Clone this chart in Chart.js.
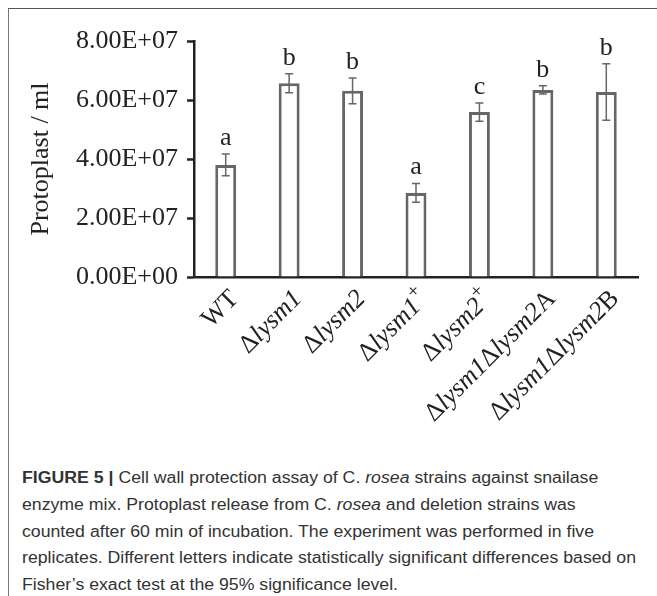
<!DOCTYPE html>
<html>
<head>
<meta charset="utf-8">
<script src="https://cdn.jsdelivr.net/npm/chart.js@4"></script>
<style>
body { margin: 0; background: #fff; width: 657px; height: 596px; overflow: hidden; position: relative; }
#frame { position: absolute; left: 8px; top: 8px; width: 800px; height: 800px; border-left: 1px solid #777; border-top: 1px solid #555; }
#histogram { position: absolute; left: 0; top: 0; }
#caption { position: absolute; left: 22px; top: 465px; font: 16px "Liberation Sans", Arial, sans-serif; line-height: 26.8px; color: #333; white-space: nowrap; transform-origin: 0 0; }
#caption span { display: inline-block; }
</style>
</head>
<body>
<div id="frame"></div>
<canvas id="histogram" width="657" height="460"></canvas>
<div id="caption">
<div><span><b>FIGURE 5 |</b> Cell wall protection assay of C. <i>rosea</i> strains against snailase</span></div>
<div><span>enzyme mix. Protoplast release from C. <i>rosea</i> and deletion strains was</span></div>
<div><span>counted after 60 min of incubation. The experiment was performed in five</span></div>
<div><span id="longest">replicates. Different letters indicate statistically significant differences based on</span></div>
<div><span>Fisher’s exact test at the 95% significance level.</span></div>
</div>
<script>
const categories = ['WT', 'Δlysm1', 'Δlysm2', 'Δlysm1+', 'Δlysm2+', 'Δlysm1Δlysm2A', 'Δlysm1Δlysm2B'];
const means = [3.80e7, 6.57e7, 6.31e7, 2.85e7, 5.59e7, 6.34e7, 6.27e7];
const errors = [0.37e7, 0.32e7, 0.44e7, 0.32e7, 0.31e7, 0.14e7, 0.96e7];
const letters = ['a', 'b', 'b', 'a', 'c', 'b', 'b'];
const yTicks = ['0.00E+00', '2.00E+07', '4.00E+07', '6.00E+07', '8.00E+07'];

const serif = '"Liberation Serif", "Times New Roman", serif';

// split a strain name into upright / italic / superscript pieces
function parts(label) {
    return label.split(/(lysm\d|\+)/).filter(s => s).map(s => {
        if (s === '+') return { text: s, font: '20px ' + serif, rise: -10 };
        if (s.startsWith('lysm')) return { text: s, font: 'italic 26px ' + serif, rise: 0 };
        return { text: s, font: '26px ' + serif, rise: 0 };
    });
}

const extras = {
    id: 'extras',
    afterDatasetsDraw(chart) {
        const ctx = chart.ctx;
        const x = chart.scales.x;
        const y = chart.scales.y;
        ctx.save();
        means.forEach((m, i) => {
            const px = x.getPixelForValue(i);
            const top = y.getPixelForValue(m + errors[i]);
            const bot = y.getPixelForValue(m - errors[i]);
            ctx.strokeStyle = '#666';
            ctx.lineWidth = 1.5;
            ctx.beginPath();
            ctx.moveTo(px, top); ctx.lineTo(px, bot);
            ctx.moveTo(px - 4, top); ctx.lineTo(px + 4, top);
            ctx.moveTo(px - 4, bot); ctx.lineTo(px + 4, bot);
            ctx.stroke();
            ctx.fillStyle = '#222';
            ctx.font = '26px ' + serif;
            ctx.textAlign = 'center';
            ctx.textBaseline = 'alphabetic';
            ctx.fillText(letters[i], px, top - 9);
        });

        // rotated x labels
        ctx.textAlign = 'left';
        ctx.textBaseline = 'middle';
        ctx.fillStyle = '#222';
        categories.forEach((c, i) => {
            const segs = parts(c);
            let total = 0;
            segs.forEach(s => { ctx.font = s.font; s.w = ctx.measureText(s.text).width; total += s.w; });
            ctx.save();
            ctx.translate(x.getPixelForValue(i) + 9, y.bottom + 18);
            ctx.rotate(-Math.PI / 4);
            let pos = -total;
            segs.forEach(s => {
                ctx.font = s.font;
                ctx.fillText(s.text, pos, s.rise);
                pos += s.w;
            });
            ctx.restore();
        });
        ctx.restore();
    }
};

new Chart(document.getElementById('histogram'), {
    type: 'bar',
    data: {
        labels: categories,
        datasets: [{
            data: means,
            backgroundColor: '#fff',
            borderColor: '#666',
            borderWidth: 3,
            barPercentage: 0.33,
            categoryPercentage: 1
        }]
    },
    options: {
        responsive: false,
        animation: false,
        layout: { padding: { top: 41, right: 19, left: 0, bottom: 0 } },
        plugins: { legend: { display: false }, tooltip: { enabled: false } },
        scales: {
            x: {
                grid: { display: false },
                border: { color: '#222', width: 2.5 },
                ticks: { display: false },
                afterFit(s) { s.height = 183; }
            },
            y: {
                min: 0,
                max: 8e7,
                ticks: {
                    stepSize: 2e7,
                    padding: 9,
                    color: '#222',
                    font: { family: serif, size: 26 },
                    callback: (v, i) => yTicks[i]
                },
                grid: { drawOnChartArea: false, tickLength: 7, tickColor: '#222', tickWidth: 2.5 },
                border: { color: '#222', width: 2.5 },
                title: {
                    display: true,
                    text: 'Protoplast / ml',
                    color: '#222',
                    font: { family: serif, size: 26 },
                    padding: { top: 26, bottom: 0 }
                },
                afterFit(s) { s.width = 194; }
            }
        }
    },
    plugins: [extras]
});

// squeeze the caption to the narrow face of the original
const w = document.getElementById('longest').getBoundingClientRect().width;
document.getElementById('caption').style.transform = 'scaleX(' + (614 / w) + ')';
</script>
</body>
</html>
